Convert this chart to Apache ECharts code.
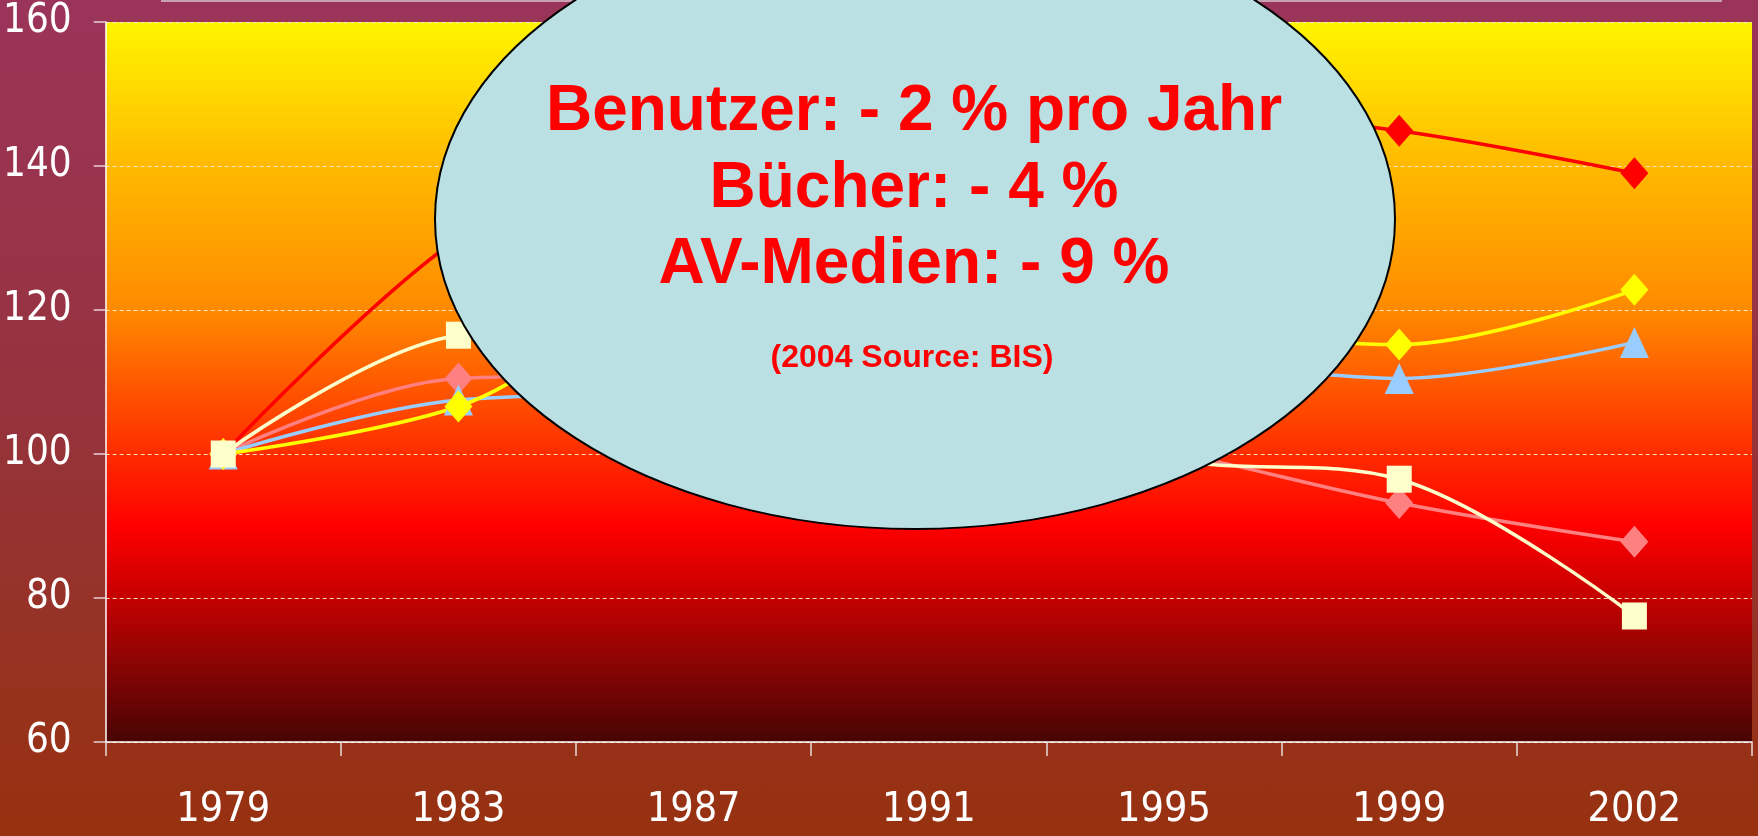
<!DOCTYPE html>
<html>
<head>
<meta charset="utf-8">
<script src="https://cdn.jsdelivr.net/npm/echarts@6/dist/echarts.min.js"></script>
<style>
  html, body { margin: 0; padding: 0; }
  #chart { width: 1758px; height: 836px; background: linear-gradient(to bottom, #9b345a 0%, #96333c 50%, #97310f 100%); }
</style>
</head>
<body>
<div id="chart"></div>
<script>
// ---- data ----
const years = ['1979', '1983', '1987', '1991', '1995', '1999', '2002'];
const yTicks = { min: 60, max: 160, interval: 20 };
const seriesRed    = [100, 130, 146, 150, 148, 144.9, 139.0];
const seriesPink   = [100, 110.5, 111, 106, 100.5, 93.2, 87.8];
const seriesBlue   = [100, 107.5, 108.5, 111, 113, 110.5, 115.5];
const seriesYellow = [100, 106.6, 122, 121, 118, 115.2, 122.8];
const seriesWhite  = [100, 116.5, 118, 111, 99.5, 96.5, 77.5];
const noteLines = ['Benutzer: - 2 % pro Jahr', 'Bücher: - 4 %', 'AV-Medien: - 9 %'];
const noteSource = '(2004 Source: BIS)';

const axisFont = "'DejaVu Sans Condensed', 'Liberation Sans', sans-serif";
const noteFont = "bold 64px 'Liberation Sans', Arial, sans-serif";

function mkSeries(name, data, color, symbol, size) {
  return {
    name: name, type: 'line', data: data, smooth: 0.35,
    symbol: symbol, symbolSize: size, showSymbol: true,
    lineStyle: { color: color, width: 3.5 },
    itemStyle: { color: color },
    emphasis: { disabled: true }
  };
}

const chart = echarts.init(document.getElementById('chart'), null, { renderer: 'canvas' });
chart.setOption({
  backgroundColor: 'transparent',
  animation: false,
  grid: {
    left: 105, right: 6, top: 22, bottom: 94,
    show: true, borderWidth: 0,
    backgroundColor: {
      type: 'linear', x: 0, y: 0, x2: 0, y2: 1,
      colorStops: [
        { offset: 0, color: '#fff500' },
        { offset: 0.2, color: '#ffb900' },
        { offset: 0.4, color: '#ff8a00' },
        { offset: 0.5, color: '#ff5a00' },
        { offset: 0.6, color: '#ff2c00' },
        { offset: 0.7, color: '#ff0000' },
        { offset: 0.8, color: '#c40000' },
        { offset: 0.9, color: '#850404' },
        { offset: 1, color: '#480404' }
      ]
    }
  },
  xAxis: {
    type: 'category', data: years, boundaryGap: true,
    axisLine: { lineStyle: { color: '#ffffff', width: 1.5 } },
    axisTick: { show: true, length: 14, lineStyle: { color: '#e8dcd8', width: 1.5 } },
    axisLabel: { color: '#ffffff', fontSize: 41, fontFamily: axisFont, margin: 48 },
    splitLine: { show: false }
  },
  yAxis: {
    type: 'value', min: yTicks.min, max: yTicks.max, interval: yTicks.interval,
    axisLine: { show: true, lineStyle: { color: '#ffffff', width: 1.5 } },
    axisTick: { show: true, length: 12, lineStyle: { color: '#e8d0d8', width: 1.5 } },
    axisLabel: { color: '#ffffff', fontSize: 40, fontFamily: axisFont, margin: 34 },
    splitLine: { show: true, lineStyle: { color: 'rgba(255,240,210,0.9)', type: [4, 3], width: 1 } }
  },
  series: [
    mkSeries('red', seriesRed, '#ff0000', 'diamond', [28, 32]),
    mkSeries('pink', seriesPink, '#ff8080', 'diamond', [28, 32]),
    mkSeries('blue', seriesBlue, '#99ccff', 'triangle', [29, 31]),
    mkSeries('yellow', seriesYellow, '#ffff00', 'diamond', [28, 32]),
    mkSeries('white', seriesWhite, '#ffffcc', 'rect', [25, 27])
  ],
  graphic: [
    { type: 'line', z: 100, shape: { x1: 161, y1: 1, x2: 1722, y2: 1 }, style: { stroke: '#c8a0b4', lineWidth: 2 } },
    { type: 'ellipse', z: 100, shape: { cx: 915, cy: 219, rx: 480, ry: 310 }, style: { fill: '#bae0e3', stroke: '#000000', lineWidth: 2 } },
    { type: 'text', z: 101, style: { text: noteLines[0], x: 914, y: 112, fill: '#ff0000', font: noteFont, align: 'center', verticalAlign: 'middle' } },
    { type: 'text', z: 101, style: { text: noteLines[1], x: 914, y: 189, fill: '#ff0000', font: noteFont, align: 'center', verticalAlign: 'middle' } },
    { type: 'text', z: 101, style: { text: noteLines[2], x: 914, y: 265.5, fill: '#ff0000', font: noteFont, align: 'center', verticalAlign: 'middle' } },
    { type: 'text', z: 101, style: { text: noteSource, x: 912, y: 358, fill: '#ff0000', font: "bold 32px 'Liberation Sans', Arial, sans-serif", align: 'center', verticalAlign: 'middle' } }
  ]
});
</script>
</body>
</html>
